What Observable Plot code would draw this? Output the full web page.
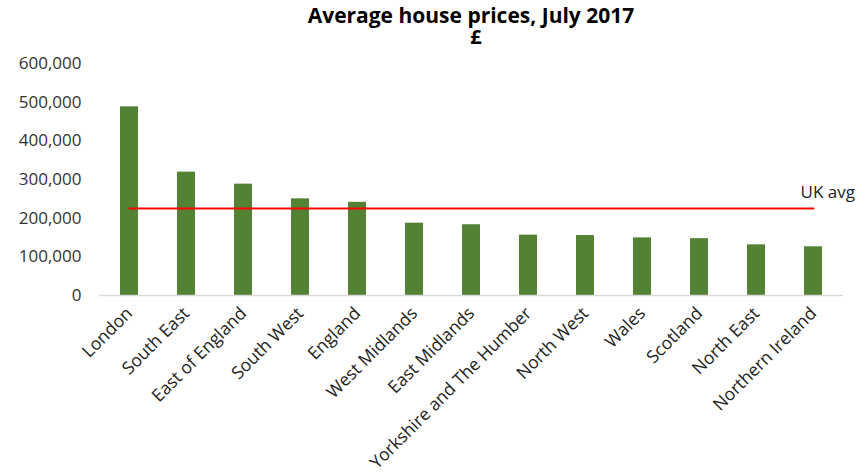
<!DOCTYPE html>
<html><head><meta charset="utf-8">
<script src="https://cdn.jsdelivr.net/npm/d3@7"></script>
<script src="https://cdn.jsdelivr.net/npm/@observablehq/plot@0.6"></script>
<style>
body{margin:0;background:#fff;font-family:"Open Sans",sans-serif;}
#wrap{position:relative;width:860px;height:472px;overflow:hidden;}
.t{position:absolute;left:471px;transform:translateX(-50%);text-align:center;font-weight:700;font-size:21px;line-height:21px;color:#000;white-space:nowrap;}
#t1{top:5px;}
#t2{top:30px;left:476px;line-height:14px;font-size:20px;}
#chart{position:absolute;left:0;top:50px;}
</style></head><body>
<div id="wrap"><div id="t1" class="t">Average house prices, July 2017</div><div id="t2" class="t">£</div><div id="chart"></div></div>
<script>
const regions = ["London","South East","East of England","South West","England","West Midlands","East Midlands","Yorkshire and The Humber","North West","Wales","Scotland","North East","Northern Ireland"];
const prices = [488000,319000,288000,250000,241000,187000,183000,156000,155000,149000,147000,131000,126000];
const ukAvg = 225000;
const avgLabel = "UK avg";
const yTicks = [0,100000,200000,300000,400000,500000,600000];

const data = regions.map((r,i)=>({region:r, price:prices[i]}));
const avgLine = [{region: regions[0], v: ukAvg}, {region: regions[regions.length-1], v: ukAvg}];
const avgText = [{region: regions[regions.length-1], v: ukAvg, label: avgLabel}];

const chart = Plot.plot({
  width: 860, height: 422,
  marginTop: 13, marginBottom: 177, marginLeft: 99, marginRight: 17,
  style: {fontFamily: "'Open Sans', sans-serif", fontSize: "17px", color: "#333", background: "white", overflow: "visible"},
  x: {domain: regions, paddingInner: 0.69, paddingOuter: 0.345, label: null},
  y: {domain: [0, 600000], label: null},
  marks: [
    Plot.axisY({ticks: yTicks, tickSize: 0, tickPadding: 18, tickFormat: d3.format(","), label: null, fill: "#333"}),
    Plot.axisX({tickSize: 0, tickPadding: 15, tickRotate: -45, label: null, fill: "#222", fontSize: 17.5}),
    Plot.barY(data, {x: "region", y: "price", fill: "#548235"}),
    Plot.ruleY([0], {stroke: "#d9d9d9", strokeWidth: 1.5}),
    Plot.lineY(avgLine, {x: "region", y: "v", stroke: "#ff0000", strokeWidth: 2}),
    Plot.text(avgText, {x: "region", y: "v", text: "label", textAnchor: "start", dx: -13, dy: -16, fill: "#222", fontSize: 17})
  ]
});
document.getElementById("chart").appendChild(chart);
</script>
</body></html>
